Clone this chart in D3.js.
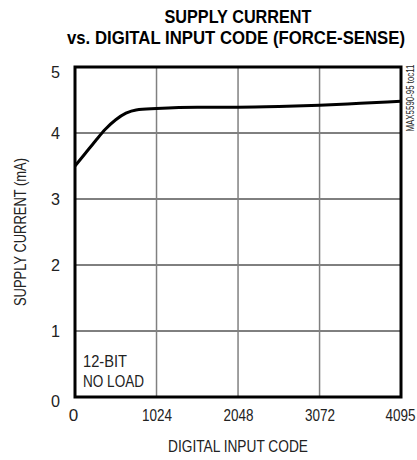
<!DOCTYPE html>
<html>
<head>
<meta charset="utf-8">
<script src="https://cdn.jsdelivr.net/npm/d3@7"></script>
<style>
  body { margin: 0; background: #fff; }
  svg { display: block; }
  text { font-family: "Liberation Sans", Arial, sans-serif; fill: #222; }
  .title { font-weight: bold; font-size: 18px; fill: #000; }
</style>
</head>
<body>
<div id="chart"></div>
<script>
// data
var codes   = [0, 128, 256, 384, 512, 640, 768, 1024, 1536, 2048, 2560, 3072, 3584, 4095];
var current = [3.50, 3.69, 3.88, 4.06, 4.20, 4.30, 4.35, 4.37, 4.39, 4.39, 4.40, 4.42, 4.45, 4.48];

var xTicks = [0, 1024, 2048, 3072, 4095];
var yTicks = [0, 1, 2, 3, 4, 5];

var width = 417,
    height = 460,
    margin = {top: 67, right: 16, bottom: 63, left: 75},
    fontSize = 17;

var svg = d3.select('#chart').append('svg')
    .attr('width', width)
    .attr('height', height);

var plotW = width - margin.left - margin.right,
    plotH = height - margin.top - margin.bottom;

var x = d3.scaleLinear().domain([0, 4095]).range([0, plotW]);
var y = d3.scaleLinear().domain([0, 5]).range([plotH, 0]);

var g = svg.append('g')
    .attr('transform', 'translate(' + margin.left + ',' + margin.top + ')');

// squeeze a text to a condensed width like the original typeface
function squeeze(sel, w) {
  sel.attr('textLength', w).attr('lengthAdjust', 'spacingAndGlyphs');
}

// title
svg.append('text').attr('class', 'title')
    .attr('x', margin.left + plotW / 2).attr('y', 23)
    .attr('text-anchor', 'middle')
    .text('SUPPLY CURRENT')
    .call(squeeze, 147);
svg.append('text').attr('class', 'title')
    .attr('x', margin.left + plotW / 2 - 2).attr('y', 44)
    .attr('text-anchor', 'middle')
    .text('vs. DIGITAL INPUT CODE (FORCE-SENSE)')
    .call(squeeze, 338);

// grid
g.selectAll('.hgrid').data(yTicks.slice(1, -1)).enter().append('line')
    .attr('x1', 0).attr('x2', plotW)
    .attr('y1', y).attr('y2', y)
    .attr('stroke', '#000').attr('stroke-width', 1);

g.selectAll('.vgrid').data(xTicks.slice(1, -1)).enter().append('line')
    .attr('x1', x).attr('x2', x)
    .attr('y1', 0).attr('y2', plotH)
    .attr('stroke', '#808080').attr('stroke-width', 1.5);

// axes, labels only
var xAxis = g.append('g')
    .attr('transform', 'translate(0,' + plotH + ')')
    .call(d3.axisBottom(x).tickValues(xTicks).tickFormat(d3.format('d')).tickSize(0).tickPadding(12));
var yAxis = g.append('g')
    .call(d3.axisLeft(y).tickValues(yTicks).tickFormat(d3.format('d')).tickSize(0).tickPadding(15));

[xAxis, yAxis].forEach(function(a) {
  a.select('.domain').remove();
  a.selectAll('text')
    .style('font-family', null)
    .attr('font-size', fontSize)
    .attr('fill', '#222');
});
xAxis.selectAll('text').filter(function(d) { return d > 0; }).call(squeeze, 30);
xAxis.selectAll('text').filter(function(d) { return d == 0; }).attr('dx', '-2');
xAxis.selectAll('text').filter(function(d) { return d == 4095; }).attr('dx', '-1');
yAxis.selectAll('text').call(squeeze, 9).attr('dy', function(d) {
  return d == 5 ? '0.6em' : (d == 0 ? '0.55em' : '0.35em');
});

// curve
var line = d3.line()
    .x(function(d, i) { return x(codes[i]); })
    .y(function(d) { return y(d); })
    .curve(d3.curveMonotoneX);

g.append('path')
    .datum(current)
    .attr('d', line)
    .attr('fill', 'none')
    .attr('stroke', '#000')
    .attr('stroke-width', 3);

// frame
g.append('rect')
    .attr('width', plotW).attr('height', plotH)
    .attr('fill', 'none')
    .attr('stroke', '#000')
    .attr('stroke-width', 3);

// annotation
g.append('text').attr('x', 8).attr('y', y(0) - 30).attr('font-size', fontSize).text('12-BIT').call(squeeze, 44);
g.append('text').attr('x', 8).attr('y', y(0) - 10).attr('font-size', fontSize).text('NO LOAD').call(squeeze, 61);

// axis titles
svg.append('text')
    .attr('x', margin.left + plotW / 2).attr('y', 452)
    .attr('text-anchor', 'middle').attr('font-size', fontSize)
    .text('DIGITAL INPUT CODE')
    .call(squeeze, 140);

svg.append('text')
    .attr('transform', 'translate(26,' + (margin.top + plotH / 2) + ') rotate(-90)')
    .attr('text-anchor', 'middle').attr('font-size', fontSize)
    .text('SUPPLY CURRENT (mA)')
    .call(squeeze, 148);

svg.append('text')
    .attr('transform', 'translate(414,98) rotate(-90)')
    .attr('text-anchor', 'middle').attr('font-size', 10)
    .text('MAX5590-95 toc11')
    .call(squeeze, 67);
</script>
</body>
</html>
